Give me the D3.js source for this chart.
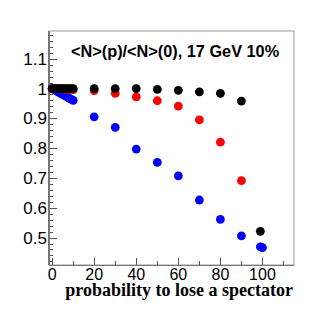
<!DOCTYPE html>
<html>
<head>
<meta charset="utf-8">
<script src="https://cdn.jsdelivr.net/npm/d3@7"></script>
<style>
  body { margin: 0; background: #fff; }
  svg { display: block; }
</style>
</head>
<body>
<svg id="main" width="327" height="312"></svg>
<script>
// probability to lose a spectator (%)
var probs = [0, 1, 2, 3, 4, 5, 6, 7, 8, 9, 10, 20, 30, 40, 50, 60, 70, 80, 90];

// <N>(p)/<N>(0) for the three series
var blackVals = [1.0, 1.0, 1.0, 1.0, 1.0, 1.0, 1.0, 1.0, 1.0, 1.0, 1.0,
  1.0, 1.0, 1.0, 0.997, 0.994, 0.989, 0.984, 0.958];
var redVals = [1.0, 1.0, 1.0, 0.999, 0.999, 0.999, 0.998, 0.998, 0.997, 0.997, 0.996,
  0.993, 0.984, 0.972, 0.959, 0.941, 0.895, 0.820, 0.691];
var blueVals = [1.0, 0.996, 0.992, 0.988, 0.984, 0.980, 0.976, 0.972, 0.968, 0.964, 0.960,
  0.905, 0.870, 0.797, 0.752, 0.707, 0.626, 0.561, 0.506];

// extra points near p = 100
var blackEnd = [{ p: 99, v: 0.521 }];
var blueEnd = [{ p: 99, v: 0.469 }, { p: 100, v: 0.466 }];

var xTicks = [0, 20, 40, 60, 80, 100];
var yTicks = [0.5, 0.6, 0.7, 0.8, 0.9, 1.0, 1.1];

var svg = d3.select("#main");

var frame = { left: 49, right: 294, top: 31, bottom: 265 };

var x = d3.scaleLinear().domain([-1.5, 115]).range([frame.left, frame.right]);
var y = d3.scaleLinear().domain([0.408, 1.193]).range([frame.bottom, frame.top]);

// frame box
svg.append("rect")
  .attr("x", frame.left)
  .attr("y", frame.top)
  .attr("width", frame.right - frame.left)
  .attr("height", frame.bottom - frame.top)
  .attr("fill", "none")
  .attr("stroke", "#999")
  .attr("stroke-width", 1);

// y axis: major ticks every 0.1, minor every 0.02, ticks inside
var yMinor = d3.range(0.42, 1.19, 0.02);
var gy = svg.append("g");
gy.selectAll("line.minor")
  .data(yMinor)
  .enter()
  .append("line")
  .attr("x1", frame.left)
  .attr("x2", frame.left + 4)
  .attr("y1", function(d) { return Math.round(y(d)) + 0.5; })
  .attr("y2", function(d) { return Math.round(y(d)) + 0.5; })
  .attr("stroke", "#555");
gy.selectAll("line.major")
  .data(yTicks)
  .enter()
  .append("line")
  .attr("x1", frame.left)
  .attr("x2", frame.left + 8)
  .attr("y1", function(d) { return Math.round(y(d)) + 0.5; })
  .attr("y2", function(d) { return Math.round(y(d)) + 0.5; })
  .attr("stroke", "#555");
gy.selectAll("text")
  .data(yTicks)
  .enter()
  .append("text")
  .attr("x", frame.left - 2)
  .attr("y", function(d) { return y(d) + 6; })
  .attr("text-anchor", "end")
  .style("font-family", "'Liberation Sans', Arial, sans-serif")
  .style("font-size", "17px")
  .text(function(d) { return d === 1 ? "1" : d3.format(".1f")(d); });

gy.append("line")
  .attr("x1", frame.left)
  .attr("x2", frame.left)
  .attr("y1", frame.top)
  .attr("y2", frame.bottom)
  .attr("stroke", "#777")
  .attr("stroke-width", 2);

// x axis: major every 20, minor every 10
var xMinor = d3.range(10, 115, 20);
var gx = svg.append("g");
gx.selectAll("line.minor")
  .data(xMinor)
  .enter()
  .append("line")
  .attr("x1", function(d) { return Math.round(x(d)) + 0.5; })
  .attr("x2", function(d) { return Math.round(x(d)) + 0.5; })
  .attr("y1", frame.bottom)
  .attr("y2", frame.bottom - 4)
  .attr("stroke", "#555");
gx.selectAll("line.major")
  .data(xTicks)
  .enter()
  .append("line")
  .attr("x1", function(d) { return Math.round(x(d)) + 0.5; })
  .attr("x2", function(d) { return Math.round(x(d)) + 0.5; })
  .attr("y1", frame.bottom)
  .attr("y2", frame.bottom - 7)
  .attr("stroke", "#555");
gx.selectAll("text")
  .data(xTicks)
  .enter()
  .append("text")
  .attr("x", function(d) { return x(d); })
  .attr("y", frame.bottom + 15)
  .attr("text-anchor", "middle")
  .style("font-family", "'Liberation Sans', Arial, sans-serif")
  .style("font-size", "16px")
  .text(function(d) { return d; });

gx.append("line")
  .attr("x1", frame.left)
  .attr("x2", frame.right)
  .attr("y1", frame.bottom + 0.5)
  .attr("y2", frame.bottom + 0.5)
  .attr("stroke", "#777");

// axis title
svg.append("text")
  .attr("x", frame.right - 1)
  .attr("y", 296)
  .attr("text-anchor", "end")
  .style("font-family", "'Liberation Serif', 'Times New Roman', serif")
  .style("font-weight", "bold")
  .style("font-size", "18px")
  .text("probability to lose a spectator");

// plot title
svg.append("text")
  .attr("x", 71)
  .attr("y", 57)
  .style("font-family", "'Liberation Sans', Arial, sans-serif")
  .style("font-weight", "bold")
  .style("font-size", "16.3px")
  .text("<N>(p)/<N>(0), 17 GeV 10%");

// markers
var gPts = svg.append("g");

function drawSeries(values, color) {
  var pts = probs.map(function(p, i) { return { p: p, v: values[i] }; });
  gPts.append("g")
    .selectAll("circle")
    .data(pts)
    .enter()
    .append("circle")
    .attr("cx", function(d) { return x(d.p); })
    .attr("cy", function(d) { return y(d.v); })
    .attr("r", 4.4)
    .attr("fill", color);
}

function drawExtra(pts, color) {
  gPts.append("g")
    .selectAll("circle")
    .data(pts)
    .enter()
    .append("circle")
    .attr("cx", function(d) { return x(d.p); })
    .attr("cy", function(d) { return y(d.v); })
    .attr("r", 4.4)
    .attr("fill", color);
}

drawSeries(blueVals, "#0000ff");
drawExtra(blueEnd, "#0000ff");
drawSeries(redVals, "#ff0000");
drawSeries(blackVals, "#000000");
drawExtra(blackEnd, "#000000");
</script>
</body>
</html>
